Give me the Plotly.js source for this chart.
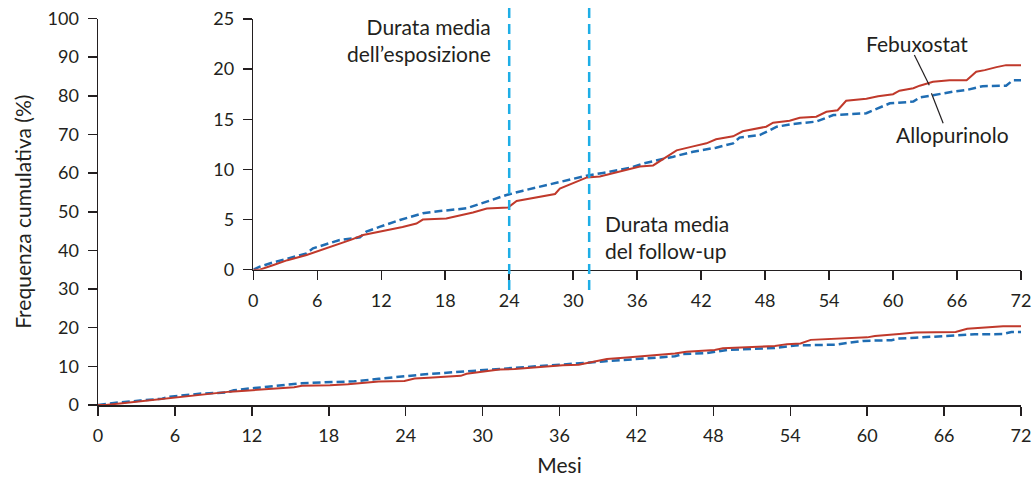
<!DOCTYPE html>
<html><head><meta charset="utf-8">
<script src="https://cdn.plot.ly/plotly-3.0.1.min.js"></script>
<style>html,body{margin:0;padding:0;background:#fff}#chart{width:1034px;height:477px}</style>
</head><body><div id="chart"></div>
<script>
const febMonths = [0,0.6,1.9,3.2,5.0,6.5,8.1,9.2,10.3,11.5,12.8,14.0,15.3,15.9,18.1,19.5,20.6,21.9,23.9,24.7,25.8,26.9,28.3,28.75,29.5,30.3,31.3,32.5,33.6,34.7,35.6,36.25,37.5,38.75,39.7,41.25,42.5,43.4,45.0,45.9,47.0,48.1,48.75,50.3,51.25,52.8,53.75,54.8,55.6,57.5,58.6,60.0,60.6,61.9,62.5,63.75,65.3,66.9,67.8,68.6,69.7,70.6,72];
const febValues = [0,0,0.47,0.95,1.47,2.0,2.6,3.0,3.46,3.7,3.96,4.25,4.6,5.0,5.1,5.4,5.7,6.1,6.2,6.85,7.05,7.3,7.55,8.1,8.4,8.8,9.2,9.3,9.6,9.85,10.1,10.3,10.4,11.3,11.9,12.3,12.6,13.0,13.3,13.8,14.0,14.26,14.66,14.85,15.15,15.25,15.75,15.9,16.85,17.05,17.3,17.5,17.85,18.1,18.35,18.75,18.9,18.9,19.75,19.9,20.2,20.4,20.4];
const alloMonths = [0,0.6,1.6,3.3,5.0,5.6,6.8,8.1,10.0,10.6,11.9,13.75,15.9,17.5,20.0,21.9,23.75,25.3,26.8,28.4,30.0,31.25,32.8,34.4,35.5,36.6,38.4,39.4,41.25,43.4,45.0,45.6,47.5,49.1,50.6,52.8,54.4,57.5,58.4,59.7,61.9,62.5,63.75,65.6,66.9,68.4,70.6,71.25,72];
const alloValues = [0,0.3,0.64,1.15,1.63,2.13,2.5,2.96,3.23,3.79,4.29,4.96,5.62,5.85,6.12,6.78,7.45,7.88,8.25,8.61,9.0,9.37,9.65,9.94,10.2,10.6,11.0,11.27,11.77,12.17,12.6,13.17,13.43,14.26,14.53,14.77,15.42,15.6,16.02,16.59,16.76,17.19,17.4,17.75,17.92,18.3,18.35,18.9,18.9];
const xTicks = [0,6,12,18,24,30,36,42,48,54,60,66,72];
const yTicksMain = [0,10,20,30,40,50,60,70,80,90,100];
const yTicksInset = [0,5,10,15,20,25];
const meanExposure = 24;
const meanFollowUp = 31.5;

const RED = '#c0392b', BLUE = '#1f6db3', LBLUE = '#1eaee6', INK = '#231f20';
const FONT = 'Lato, "Open Sans", sans-serif';

function curve(x, y, name, color, dash, xa, ya, w) {
  return {x: x, y: y, name: name, type: 'scatter', mode: 'lines', xaxis: xa, yaxis: ya,
    line: {shape: 'linear', color: color, width: w, dash: dash}, hoverinfo: 'skip', showlegend: false};
}
const data = [
  curve(alloMonths, alloValues, 'Allopurinolo', BLUE, '8px,4px', 'x', 'y', 2.5),
  curve(febMonths, febValues, 'Febuxostat', RED, 'solid', 'x', 'y', 2),
  curve(alloMonths, alloValues, 'Allopurinolo', BLUE, '8px,4px', 'x2', 'y2', 2.5),
  curve(febMonths, febValues, 'Febuxostat', RED, 'solid', 'x2', 'y2', 2)
];

const W = 1034, H = 477;
const px = v => v / W, py = v => 1 - v / H;
const axisBase = {showgrid: false, zeroline: false, showline: true, linecolor: INK, linewidth: 1.5,
  ticks: 'outside', ticklen: 9, tickwidth: 1.5, tickcolor: INK, ticklabelstandoff: 5,
  tickfont: {family: FONT, size: 18, color: INK}, fixedrange: true};

function label(text, xref, x, y, xanchor, align, xshift) {
  return {xref: xref, yref: 'paper', x: x, y: py(y), xanchor: xanchor, yanchor: 'middle', xshift: xshift || 0,
    align: align, text: text, showarrow: false, font: {family: FONT, size: 21, color: INK}};
}

const layout = {
  width: W, height: H, margin: {l: 0, r: 0, t: 0, b: 0},
  paper_bgcolor: '#fff', plot_bgcolor: 'rgba(0,0,0,0)',
  font: {family: FONT, color: INK},
  xaxis: Object.assign({}, axisBase, {domain: [px(98), px(1021)], range: [0, 72], tickvals: xTicks, anchor: 'y',
    title: {text: 'Mesi', font: {family: FONT, size: 21, color: INK}, standoff: 14}}),
  yaxis: Object.assign({}, axisBase, {domain: [py(405), py(18.5)], range: [0, 100], tickvals: yTicksMain, anchor: 'x',
    title: {text: 'Frequenza cumulativa (%)', font: {family: FONT, size: 21, color: INK}, standoff: 10}}),
  xaxis2: Object.assign({}, axisBase, {domain: [px(253.3), px(1021)], range: [0, 72], tickvals: xTicks, anchor: 'y2'}),
  yaxis2: Object.assign({}, axisBase, {domain: [py(269.7), py(19)], range: [0, 25], tickvals: yTicksInset, anchor: 'x2'}),
  shapes: [
    {type: 'line', xref: 'x2', yref: 'paper', x0: meanExposure, x1: meanExposure, y0: py(290), y1: py(8),
      line: {color: LBLUE, width: 2.5, dash: '10px,6px'}},
    {type: 'line', xref: 'x2', yref: 'paper', x0: meanFollowUp, x1: meanFollowUp, y0: py(290), y1: py(8),
      line: {color: LBLUE, width: 2.5, dash: '10px,6px'}},
    {type: 'line', xref: 'x2', yref: 'y2', x0: 62.0, y0: 21.4, x1: 63.4, y1: 18.4, line: {color: INK, width: 1.2}},
    {type: 'line', xref: 'x2', yref: 'y2', x0: 64.7, y0: 14.6, x1: 63.6, y1: 17.6, line: {color: INK, width: 1.2}}
  ],
  annotations: [
    label('Durata media<br>dell’esposizione', 'x2', meanExposure, 40, 'right', 'right', -16),
    label('Durata media<br>del follow-up', 'x2', meanFollowUp, 237, 'left', 'left', 14),
    label('Febuxostat', 'paper', px(917), 43, 'center', 'center'),
    label('Allopurinolo', 'paper', px(952), 135, 'center', 'center')
  ]
};
Plotly.newPlot('chart', data, layout, {displayModeBar: false, staticPlot: true});
</script></body></html>
